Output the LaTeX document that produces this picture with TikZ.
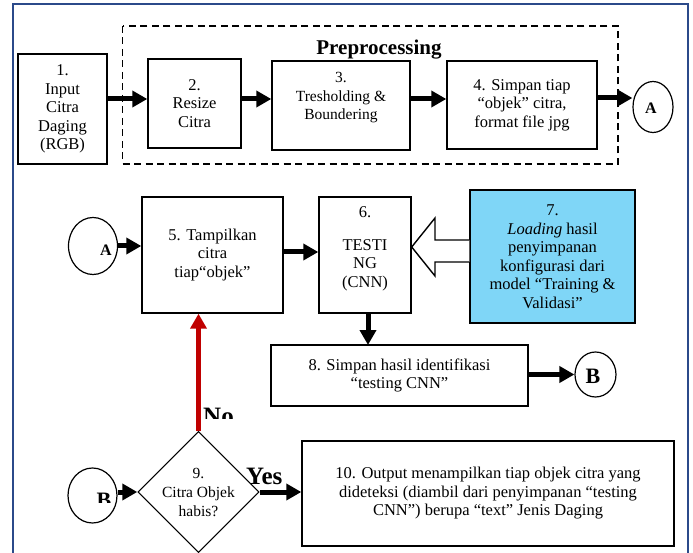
\documentclass[tikz,border=0pt]{standalone}
\usepackage{fontspec}
\setmainfont{Liberation Serif}
\usetikzlibrary{arrows.meta,shapes.geometric,calc}
\definecolor{framebl}{HTML}{2B4A8A}
\definecolor{skyfill}{HTML}{7FD6F7}
\definecolor{redar}{HTML}{C00000}
\begin{document}
\begin{tikzpicture}[x=1pt,y=-1pt,
  box/.style={draw,line width=1.4pt,rectangle,inner sep=0pt,align=center,
    font=\fontsize{16.5}{18.5}\selectfont},
  circ/.style={draw,line width=1.2pt,ellipse,inner sep=0pt},
  dia/.style={draw,line width=1.2pt,diamond,inner sep=0pt,align=center,
    font=\fontsize{15.5}{19}\selectfont},
  thick arrow/.style={line width=5pt,-{Triangle[length=15pt,width=16pt]}},
  red arrow/.style={line width=5pt,draw=redar,-{Triangle[length=15pt,width=16pt]},redar},
  hollow/.style={draw,line width=1.4pt,fill=white,line join=miter}]
\useasboundingbox (0,0) rectangle (693,553);
\fill[white] (0,0) rectangle (693,553);
\draw[framebl,line width=1.8pt] (13,553) -- (13,4) -- (688,4) -- (688,553);

% preprocessing frame
\draw[line width=1.4pt,dash pattern=on 7pt off 4.5pt] (122.7,26) rectangle (618,164);
\node[font=\fontsize{21}{23}\selectfont\bfseries,anchor=base] (pre) at (379,55) {Preprocessing};

\node[box,minimum width=89pt,minimum height=110pt] (n1) at (62.5,109) {1.\\Input\\Citra\\Daging\\(RGB)};
\node[box,minimum width=93pt,minimum height=89pt] (n2) at (194.5,103.5) {2.\\Resize\\Citra};
\node[box,minimum width=138pt,minimum height=89pt] (n3) at (341,105.5) {};
\node[align=center,font=\fontsize{15.5}{18.5}\selectfont] (t3) at (341,98) {3.\\Tresholding \&\\Boundering};
\node[box,minimum width=150pt,minimum height=88pt] (n4) at (522,105) {4. Simpan tiap\\``objek'' citra,\\format file jpg};
\node[circ,minimum width=40pt,minimum height=51pt] (a1) at (653,107) {};
\node[font=\fontsize{16}{18}\selectfont\bfseries] (la1) at (651,108) {A};

\draw[thick arrow] (n1.east |- 0,99) -- (n2.west |- 0,99);
\draw[thick arrow] (n2.east |- 0,99) -- (n3.west |- 0,99);
\draw[thick arrow] (n3.east |- 0,99) -- (n4.west |- 0,99);
\draw[thick arrow] (n4.east |- 0,98) -- (a1.west |- 0,98);

% row 2
\node[circ,minimum width=49pt,minimum height=57pt] (a2) at (93,246) {};
\begin{scope}
\clip (80,245) rectangle (120,270);
\node[font=\fontsize{16}{18}\selectfont\bfseries] (la2) at (106,250) {A};
\end{scope}
\node[box,minimum width=141pt,minimum height=116pt] (n5) at (212.5,255) {5. Tampilkan\\citra\\tiap``objek''};
\node[box,minimum width=92pt,minimum height=116pt] (n6) at (365,255) {};
\node[align=center,font=\fontsize{16.5}{18.5}\selectfont] (t6) at (365,249) {6.\\[14pt]TESTI\\NG\\(CNN)};
\node[box,fill=skyfill,minimum width=165pt,minimum height=133pt] (n7) at (552.5,256.5) {7.\\\emph{Loading} hasil\\penyimpanan\\konfigurasi dari\\model ``Training \&\\Validasi''};
\draw[hollow] (n7.west |- 0,240) -- (435,240) -- (435,218) -- (n6.east |- 0,247) -- (435,276) -- (435,262) -- (n7.west |- 0,262);

\draw[thick arrow] (a2.east) -- (n5.west |- a2.east);
\draw[thick arrow] (n5.east |- 0,252) -- (n6.west |- 0,252);

\node[box,minimum width=257pt,minimum height=61pt] (n8) at (399.5,375.5) {8. Simpan hasil identifikasi\\``testing CNN''};
\draw[thick arrow] (368,313) -- (368,345);
\node[circ,minimum width=41pt,minimum height=45pt] (b1) at (595.5,374.5) {};
\node[font=\fontsize{22}{24}\selectfont\bfseries] (lb1) at (593,376) {B};
\draw[thick arrow] (n8.east |- b1.west) -- (b1.west);

% row 3
\node[dia,minimum width=111pt,minimum height=102pt] (n9) at (198.5,492) {9.\\Citra Objek\\habis?};
\node[circ,minimum width=49pt,minimum height=55pt] (b2) at (92.5,495.5) {};
\begin{scope}
\clip (80,480) rectangle (120,502);
\node[font=\fontsize{22}{24}\selectfont\bfseries] (lb2) at (104,500) {B};
\end{scope}
\node[box,minimum width=372pt,minimum height=105pt] (n10) at (488,493.5) {10. Output menampilkan tiap objek citra yang\\dideteksi (diambil dari penyimpanan ``testing\\CNN'') berupa ``text'' Jenis Daging};

\draw[thick arrow] (b2.east |- n9.west) -- (n9.west);
\draw[thick arrow] (n9.east) -- (n10.west |- n9.east);
\draw[red arrow] (n9.north) -- (n9.north |- n5.south);
\node[font=\fontsize{25}{27}\selectfont\bfseries,anchor=base west,inner sep=0pt] (yes) at (246,484) {Yes};
\begin{scope}
\clip (195,395) rectangle (260,418);
\node[font=\fontsize{25}{27}\selectfont\bfseries,anchor=base west,inner sep=0pt] (no) at (203,424) {No};
\end{scope}
\end{tikzpicture}
\end{document}
